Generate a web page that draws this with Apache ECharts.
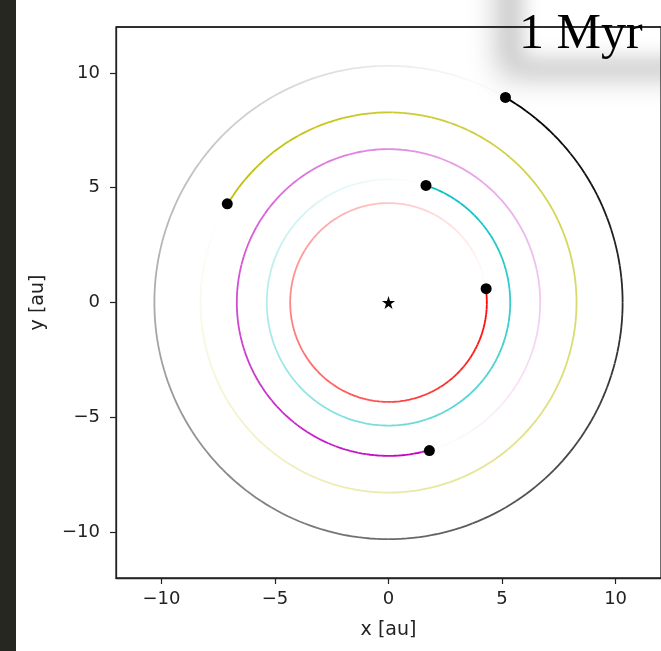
<!DOCTYPE html>
<html>
<head>
<meta charset="utf-8">
<script src="https://cdn.jsdelivr.net/npm/echarts@6/dist/echarts.min.js"></script>
<style>
html,body{margin:0;padding:0;background:#fff;overflow:hidden;}
#main{width:661px;height:651px;}
</style>
</head>
<body>
<div id="main"></div>
<script>
// ---- data ----
const planetNames = ['p1', 'p2', 'p3', 'p4', 'p5'];
const orbitRadius = [4.33, 5.36, 6.68, 8.28, 10.31];
const planetX = [4.3, 1.65, 1.8, -7.1, 5.15];
const planetY = [0.6, 5.1, -6.45, 4.3, 8.93];
const orbitColors = ['#ff0000', '#00bfbf', '#bf00bf', '#bfbf00', '#000000'];
const starX = [0];
const starY = [0];
const xTickValues = [-10, -5, 0, 5, 10];
const yTickValues = [-10, -5, 0, 5, 10];
const timeLabel = '1 Myr';

// ---- build ----
const fmt = v => (v < 0 ? '\u2212' + Math.abs(v) : String(v));
const NSEG = 120;
const series = [];
planetNames.forEach((name, i) => {
  const r = orbitRadius[i];
  const t0 = Math.atan2(planetY[i], planetX[i]);
  const step = 2 * Math.PI / NSEG;
  const segs = [];
  for (let k = 0; k < NSEG; k++) {
    const a1 = t0 - k * step, a2 = t0 - (k + 1) * step;
    const am = (a1 + a2) / 2;
    segs.push({
      coords: [[r * Math.cos(a1), r * Math.sin(a1)], [r * Math.cos(am), r * Math.sin(am)], [r * Math.cos(a2), r * Math.sin(a2)]],
      lineStyle: { opacity: Math.max(0.02, 1 - (k + 0.5) / NSEG) }
    });
  }
  series.push({
    type: 'lines', name: name + ' trail', coordinateSystem: 'cartesian2d', polyline: true,
    silent: true, z: 2,
    lineStyle: { color: orbitColors[i], width: 1.8, cap: 'butt' },
    data: segs
  });
});
series.push({
  type: 'scatter', name: 'planets', z: 5, symbol: 'circle', symbolSize: 11,
  itemStyle: { color: '#000', opacity: 1 },
  data: planetX.map((x, i) => [x, planetY[i]])
});
series.push({
  type: 'scatter', name: 'star', z: 5,
  symbol: 'path://M50,0 L61.2,34.5 L97.6,34.5 L68.2,55.9 L79.4,90.5 L50,69.1 L20.6,90.5 L31.8,55.9 L2.4,34.5 L38.8,34.5 Z',
  symbolSize: 13,
  itemStyle: { color: '#000', opacity: 1 },
  data: starX.map((x, i) => [x, starY[i]])
});

const axisCommon = {
  type: 'value', min: -12, max: 12, z: 10,
  splitLine: { show: false },
  axisLine: { show: true, onZero: false, lineStyle: { color: '#222', width: 1.3 } },
  axisTick: { show: true, length: 6, lineStyle: { color: '#222', width: 1.2 } },
  nameLocation: 'middle',
  nameTextStyle: { fontFamily: 'DejaVu Sans', fontSize: 19, color: '#222' }
};

const chart = echarts.init(document.getElementById('main'));
chart.setOption({
  animation: false,
  backgroundColor: '#ffffff',
  grid: { left: 116, top: 27, width: 553, height: 551, show: true, borderColor: '#222', borderWidth: 1.3, backgroundColor: 'transparent' },
  xAxis: Object.assign({}, axisCommon, {
    name: 'x [au]', nameGap: 43,
    axisTick: Object.assign({}, axisCommon.axisTick, { customValues: xTickValues }),
    axisLabel: { customValues: xTickValues, formatter: fmt, margin: 12, fontFamily: 'DejaVu Sans', fontSize: 18, color: '#222' }
  }),
  yAxis: Object.assign({}, axisCommon, {
    name: 'y [au]', nameGap: 68,
    axisTick: Object.assign({}, axisCommon.axisTick, { customValues: yTickValues }),
    axisLabel: { customValues: yTickValues, formatter: fmt, margin: 16, fontFamily: 'DejaVu Sans', fontSize: 18, color: '#222' }
  }),
  graphic: {
    elements: [
      { type: 'rect', z: -10, silent: true, shape: { x: 0, y: 0, width: 16, height: 651 }, style: { fill: '#272722' } },
      // soft gray glow (shadow of an off-screen box)
      { type: 'rect', z: -10, silent: true, shape: { x: 500, y: -1050, width: 260, height: 125 },
        style: { fill: '#ffffff', shadowBlur: 30, shadowOffsetY: 1000, shadowColor: 'rgba(0,0,0,0.27)' } },
      // soft white panel (white shadow of an off-screen box)
      { type: 'rect', z: -9, silent: true, shape: { x: 520, y: -1050, width: 240, height: 110 },
        style: { fill: '#ffffff', shadowBlur: 20, shadowOffsetY: 1000, shadowColor: 'rgba(255,255,255,1)' } },
      // top spine drawn above the glow
      { type: 'line', z: 50, silent: true, shape: { x1: 116, y1: 27, x2: 661, y2: 27 },
        style: { stroke: '#222', lineWidth: 1.3 } },
      { type: 'text', z: 100, silent: true, x: 519, y: 35,
        style: { text: timeLabel, fontFamily: 'Liberation Serif', fontSize: 50, fill: '#000', verticalAlign: 'middle', align: 'left' } }
    ]
  },
  series: series
});
</script>
</body>
</html>
